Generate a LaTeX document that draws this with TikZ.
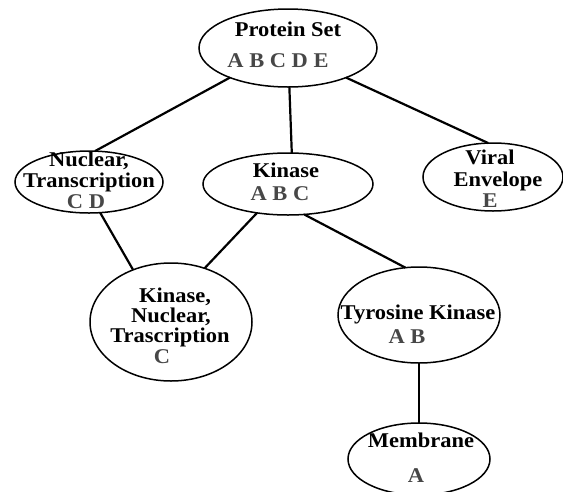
\documentclass[tikz,border=0pt]{standalone}
\usepackage{fontspec}
\setmainfont{Liberation Serif}[FakeStretch=1.07]
\usetikzlibrary{shapes.geometric}

\begin{document}
\begin{tikzpicture}[
    x=1pt, y=-1pt,
    blob/.style={ellipse, draw, line width=1.5pt, inner sep=0, outer sep=0},
    tag/.style={anchor=base, inner sep=0, font=\bfseries\fontsize{21}{21}\selectfont},
    set/.style={tag, text=black!72},
    link/.style={draw, line width=2.2pt}]
\useasboundingbox (0,0) rectangle (563,491);

% the sets
\node[blob, minimum width=178pt, minimum height=78pt]  (prot) at (288,48)  {};
\node[blob, minimum width=148pt, minimum height=62pt]  (nucl) at (89,182)  {};
\node[blob, minimum width=170pt, minimum height=62pt]  (kin)  at (288,184) {};
\node[blob, minimum width=140pt, minimum height=68pt]  (vir)  at (493,177) {};
\node[blob, minimum width=162pt, minimum height=118pt] (knt)  at (171,322) {};
\node[blob, minimum width=162pt, minimum height=96pt]  (tyr)  at (419,315) {};
\node[blob, minimum width=142pt, minimum height=72pt]  (memb) at (419,459) {};

% names and members
\node[tag] (prot-t) at (288,36)  {Protein Set};
\node[set] (prot-s) at (278,67)  {A B C D E};
\node[tag] (nucl-t) at (89,166)  {Nuclear,};
\node[tag] (nucl-u) at (89,187)  {Transcription};
\node[set] (nucl-s) at (86,208)  {C D};
\node[tag] (kin-t)  at (286,177) {Kinase};
\node[set] (kin-s)  at (280,200) {A B C};
\node[tag] (vir-t)  at (490,164) {Viral};
\node[tag] (vir-u)  at (498,186) {Envelope};
\node[set] (vir-s)  at (490,207) {E};
\node[tag] (knt-t)  at (175,302) {Kinase,};
\node[tag] (knt-u)  at (171,322) {Nuclear,};
\node[tag] (knt-v)  at (170,342) {Trascription};
\node[set] (knt-s)  at (162,363) {C};
\node[tag] (tyr-t)  at (418,319) {Tyrosine Kinase};
\node[set] (tyr-s)  at (407,343) {A B};
\node[tag] (memb-t) at (421,447) {Membrane};
\node[set] (memb-s) at (416,482) {A};

% links
\path[link] (prot.-153) -- (nucl.79);
\path[link] (prot.-88)  -- (kin.83);
\path[link] (prot.-27)  -- (vir.98);
\path[link] (nucl.-70)  -- (knt.126);
\path[link] (kin.-137)  -- (knt.58);
\path[link] (kin.-62)   -- (tyr.106);
\path[link] (tyr.-90)   -- (memb.90);

\end{tikzpicture}
\end{document}
